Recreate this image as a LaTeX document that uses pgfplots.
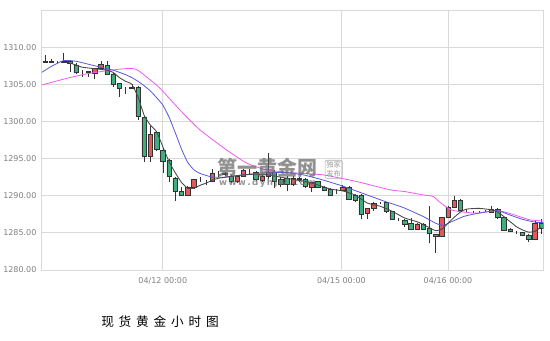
\documentclass[border=0pt]{standalone}
\usepackage{pgfplots}
\usepackage{pgfplotstable}
\pgfplotsset{compat=1.18}
\usepackage{fontspec}
\setmainfont{DejaVu Sans}
\newfontfamily\cjk{Noto Sans CJK SC}
\definecolor{gridc}{HTML}{D9D9D9}
\definecolor{labelc}{HTML}{808080}
\definecolor{upred}{HTML}{E4585C}
\definecolor{downgreen}{HTML}{3FAE7E}
\definecolor{edgec}{HTML}{333333}
\definecolor{maone}{HTML}{484848}
\definecolor{matwo}{HTML}{5858DD}
\definecolor{mathree}{HTML}{EE5AEE}

% i O H L C lo redbody greenbody
\pgfplotstableread{
i O H L C lo rb gb
0 1308.0 1308.9 1307.9 1308.1 1308.0 0.1 0
1 1308.1 1308.4 1307.9 1308.0 1308.0 0 0.1
2 1308.0 1308.2 1307.8 1308.0 1308.0 0 0
3 1308.0 1309.2 1307.9 1308.1 1308.0 0.1 0
4 1308.1 1308.3 1306.7 1307.8 1307.8 0 0.3
5 1307.6 1307.8 1306.4 1306.6 1306.6 0 1.0
6 1306.8 1306.9 1306.0 1306.8 1306.8 0 0
7 1306.7 1306.8 1306.0 1306.6 1306.6 0 0.1
8 1306.5 1307.2 1305.7 1307.1 1306.5 0.6 0
9 1307.1 1308.2 1306.9 1307.7 1307.1 0.6 0
10 1307.5 1308.2 1306.3 1306.4 1306.4 0 1.1
11 1306.4 1306.5 1304.6 1305.0 1305.0 0 1.4
12 1305.1 1305.2 1303.3 1304.5 1304.5 0 0.6
13 1304.5 1304.6 1303.7 1304.5 1304.5 0 0
14 1304.5 1305.1 1304.3 1304.6 1304.5 0.1 0
15 1304.6 1304.8 1300.2 1300.7 1300.7 0 3.9
16 1300.5 1300.7 1294.5 1295.3 1295.3 0 5.2
17 1295.3 1299.4 1294.6 1298.3 1295.3 3.0 0
18 1298.5 1298.7 1296.0 1296.3 1296.3 0 2.2
19 1296.15 1296.3 1293.0 1294.6 1294.6 0 1.55
20 1294.75 1294.9 1291.9 1292.6 1292.6 0 2.15
21 1292.4 1292.5 1289.3 1290.55 1290.55 0 1.85
22 1290.55 1291.2 1289.9 1290.0 1290.0 0 0.55
23 1290.0 1291.3 1289.9 1291.2 1290.0 1.2 0
24 1291.1 1292.3 1290.9 1292.2 1291.1 1.1 0
25 1292.0 1292.5 1291.8 1292.0 1292.0 0 0
26 1291.9 1292.1 1291.4 1291.9 1291.9 0 0
27 1292.0 1293.6 1291.8 1293.0 1292.0 1.0 0
28 1293.1 1293.3 1292.5 1293.1 1293.1 0 0
29 1293.0 1293.2 1292.6 1292.9 1292.9 0 0.1
30 1292.65 1292.8 1291.7 1291.9 1291.9 0 0.75
31 1291.9 1292.8 1291.7 1292.6 1291.9 0.7 0
32 1292.65 1293.6 1292.5 1293.4 1292.65 0.75 0
33 1293.4 1293.6 1292.9 1293.4 1293.4 0 0
34 1293.1 1293.3 1292.0 1292.2 1292.2 0 0.9
35 1292.05 1292.8 1291.9 1292.65 1292.05 0.6 0
36 1292.6 1295.7 1292.3 1293.2 1292.6 0.6 0
37 1293.2 1293.4 1291.0 1292.0 1292.0 0 1.2
38 1292.2 1292.5 1291.2 1291.6 1291.6 0 0.6
39 1292.4 1292.6 1290.6 1291.5 1291.5 0 0.9
40 1291.5 1292.6 1291.3 1292.4 1291.5 0.9 0
41 1292.3 1292.5 1291.8 1292.2 1292.2 0 0.1
42 1292.2 1292.4 1291.1 1291.25 1291.25 0 0.95
43 1291.15 1291.9 1290.5 1291.8 1291.15 0.65 0
44 1291.9 1292.0 1291.0 1291.15 1291.15 0 0.75
45 1291.15 1291.3 1290.6 1290.8 1290.8 0 0.35
46 1290.9 1291.0 1290.0 1290.1 1290.1 0 0.8
47 1290.8 1290.9 1290.2 1290.8 1290.8 0 0
48 1290.8 1291.4 1290.7 1291.2 1290.8 0.4 0
49 1291.15 1291.3 1289.4 1289.5 1289.5 0 1.65
50 1290.1 1290.2 1289.2 1289.4 1289.4 0 0.7
51 1290.1 1290.2 1286.8 1287.5 1287.5 0 2.6
52 1287.6 1288.4 1286.9 1288.3 1287.6 0.7 0
53 1288.25 1289.1 1288.0 1289.0 1288.25 0.75 0
54 1289.1 1289.2 1288.9 1289.1 1289.1 0 0
55 1289.1 1289.2 1287.7 1287.9 1287.9 0 1.2
56 1287.9 1288.0 1286.7 1286.85 1286.85 0 1.05
57 1286.85 1287.0 1286.6 1286.85 1286.85 0 0
58 1286.7 1286.8 1285.75 1286.2 1286.2 0 0.5
59 1286.3 1287.0 1285.4 1285.5 1285.5 0 0.8
60 1285.5 1286.3 1285.4 1286.2 1285.5 0.7 0
61 1286.2 1286.3 1285.4 1285.5 1285.5 0 0.7
62 1285.6 1288.6 1283.6 1284.9 1284.9 0 0.7
63 1284.85 1284.9 1282.3 1284.6 1284.6 0 0.25
64 1284.6 1287.2 1284.5 1287.1 1284.6 2.5 0
65 1287.1 1288.6 1287.0 1288.45 1287.1 1.35 0
66 1288.45 1290.0 1288.3 1289.35 1288.45 0.9 0
67 1289.35 1289.5 1288.0 1288.1 1288.1 0 1.25
68 1288.0 1288.2 1287.8 1288.0 1288.0 0 0
69 1287.9 1288.0 1287.7 1287.9 1287.9 0 0
70 1287.9 1288.0 1287.7 1287.9 1287.9 0 0
71 1288.0 1288.1 1287.8 1288.0 1288.0 0 0
72 1287.8 1288.6 1287.7 1288.2 1287.8 0.4 0
73 1288.2 1288.3 1286.9 1287.1 1287.1 0 1.1
74 1287.1 1287.2 1285.3 1285.4 1285.4 0 1.7
75 1285.5 1285.6 1285.1 1285.2 1285.2 0 0.3
76 1285.05 1285.2 1284.9 1285.05 1285.05 0 0
77 1285.05 1285.1 1284.6 1284.7 1284.7 0 0.35
78 1284.7 1284.8 1283.8 1284.15 1284.15 0 0.55
79 1284.15 1286.6 1284.0 1286.3 1284.15 2.15 0
80 1286.3 1286.85 1284.9 1285.6 1285.6 0 0.7
}\candles

\pgfplotsset{base/.style={
  at={(0,0)}, anchor=south west, scale only axis,
  width=376.2pt, height=195pt,
  xmin=-0.53, xmax=80.37, ymin=1280, ymax=1315,
  enlargelimits=false, clip=true}}

\begin{document}
\begin{tikzpicture}
\path[use as bounding box] (-31.3pt,-52.5pt) rectangle (381.2pt,202.5pt);
% axis 1: frame, grid, labels, wicks
\begin{axis}[base,
  axis line style={draw=gridc, line width=0.6pt},
  grid=major, major grid style={draw=gridc, line width=0.6pt},
  xtick={19,47.8,65},
  xticklabels={04/12 00:00, 04/15 00:00, 04/16 00:00},
  ytick={1280,1285,1290,1295,1300,1305,1310},
  major tick length=0pt,
  tick label style={font=\fontsize{6}{7}\selectfont, text=labelc},
  /pgf/number format/assume math mode=true,
  yticklabel style={/pgf/number format/fixed, /pgf/number format/fixed zerofill,
    /pgf/number format/precision=2, /pgf/number format/1000 sep={}, xshift=-0.5pt},
  xticklabel style={yshift=-2pt},
]
\addplot[draw=none, mark=none,
  error bars/.cd, y dir=plus, y explicit, error mark=none,
  error bar style={draw=edgec, line width=0.45pt}]
  table[x=i, y=L, y error expr=\thisrow{H}-\thisrow{L}] {\candles};
\end{axis}
% axis 2: candle bodies
\begin{axis}[base, hide axis, ybar stacked, bar width=0.72]
\addplot[draw=none, fill=none] table[x=i, y=lo] {\candles};
\addplot[fill=upred, draw=edgec, line width=0.4pt] table[x=i, y=rb] {\candles};
\addplot[fill=downgreen, draw=edgec, line width=0.4pt] table[x=i, y=gb] {\candles};
\end{axis}
% axis 3: moving averages
\begin{axis}[base, hide axis]
\addplot[mathree, line width=0.6pt, smooth, tension=0.3] coordinates {
(-0.53,1304.9) (3.5,1305.8) (6.7,1306.4) (10.5,1306.9) (13.7,1307.15) (14.7,1307.0) (15.3,1306.7) (16.8,1305.7) (18.5,1304.5) (21.8,1301.5) (25,1298.85) (29.3,1296.15) (32.5,1294.4) (35.8,1293.45) (40,1293.1) (44.9,1292.8) (50.3,1291.9) (55.6,1290.8) (58.1,1290.55) (61,1290.1) (62.6,1289.9) (64,1288.9) (65.5,1288.1) (67,1287.85) (69.6,1287.65) (72.9,1288.0) (75,1287.6) (78.2,1286.75) (80.37,1286.6)};
\addplot[matwo, line width=0.6pt, smooth, tension=0.3] coordinates {
(-0.53,1306.6) (1,1307.4) (3,1308.2) (5,1308.1) (7,1307.7) (9,1307.3) (11,1306.9) (13,1306.3) (14,1305.9) (15,1305.4) (16,1304.8) (17,1304.1) (18,1303.2) (19,1302.2) (20,1300.6) (21,1298.5) (22,1296.3) (23,1294.5) (24,1293.5) (25,1293.0) (27,1292.5) (29,1292.5) (31,1292.7) (33,1292.9) (36,1293.1) (39,1293.1) (41.7,1292.8) (44.9,1292.1) (48,1291.3) (51.3,1290.3) (54.6,1289.3) (57.8,1288.4) (61,1287.2) (63,1286.3) (64.2,1286.0) (65.3,1286.4) (67.5,1287.2) (69.6,1287.6) (72.9,1288.0) (75,1287.4) (77.1,1286.8) (79.3,1286.4) (80.37,1286.4)};
\addplot[maone, line width=0.65pt, smooth, tension=0.3] coordinates {
(3.5,1308.0) (5,1307.6) (6,1307.3) (8,1307.1) (10,1306.9) (11,1306.6) (12,1305.9) (13,1305.4) (14,1305.0) (15,1303.3) (16,1300.8) (17,1299.5) (18,1298.6) (19,1296.6) (20,1294.6) (21,1293.1) (22,1291.8) (23,1291.0) (24,1291.0) (25,1291.4) (26,1291.7) (27,1292.1) (28,1292.35) (30,1292.6) (32,1292.8) (34,1292.9) (36,1292.8) (38,1292.5) (40,1292.2) (42,1291.9) (44,1291.45) (46,1290.9) (48,1290.65) (50,1290.1) (52,1289.0) (54,1288.6) (56,1287.9) (58,1287.0) (60,1286.5) (62,1285.7) (63,1285.3) (64,1285.5) (65,1286.3) (66,1287.1) (67,1287.8) (68,1288.2) (70,1288.3) (72,1288.1) (73,1287.8) (74,1287.2) (76,1285.85) (77,1285.4) (78,1285.1) (79,1285.2) (80,1285.8)};
\end{axis}
% watermark
\node[text=black!60, text opacity=0.72, font=\cjk\bfseries\fontsize{15}{16}\selectfont, inner sep=0pt] at (169.4pt,77pt) {第一黄金网};
\node[text=black!60, text opacity=0.7, font=\bfseries\fontsize{6.5}{7}\selectfont, inner sep=0pt] at (169.4pt,65pt) {w\,w\,w\,.\,d\,y\,h\,j\,w\,.\,c\,o\,m};
\node[draw=black!45, draw opacity=0.7, rounded corners=1.5pt, text=black!55, text opacity=0.7, font=\cjk\fontsize{5.5}{6.5}\selectfont, inner sep=1pt, align=center] at (219pt,75.5pt) {独家\\发布};
% title
\node[font=\cjk\fontsize{9.5}{10}\selectfont, inner sep=0pt] at (88.7pt,-39pt) {现\hspace{3.6pt}货\hspace{3.6pt}黄\hspace{3.6pt}金\hspace{3.6pt}小\hspace{3.6pt}时\hspace{3.6pt}图};
\end{tikzpicture}
\end{document}
